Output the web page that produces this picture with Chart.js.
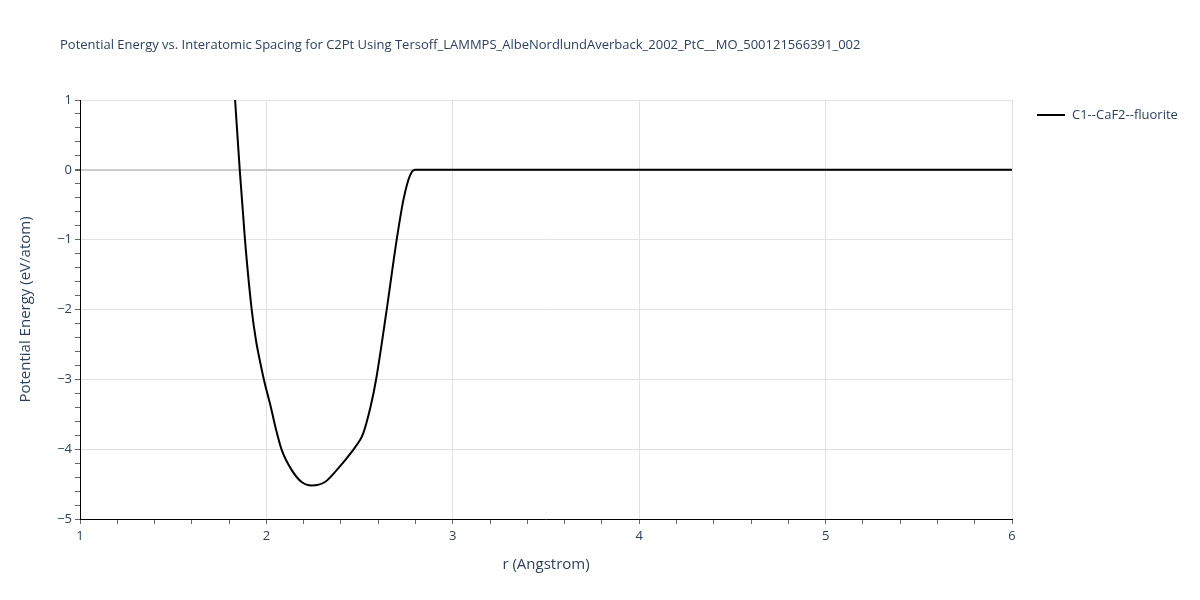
<!DOCTYPE html>
<html>
<head>
<meta charset="utf-8">
<script src="https://cdn.jsdelivr.net/npm/chart.js@4"></script>
<style>
  html, body { margin: 0; padding: 0; background: #fff; }
  #wrap { width: 1200px; height: 600px; position: relative; }
</style>
</head>
<body>
<div id="wrap"><canvas id="myChart" width="1200" height="600"></canvas></div>
<script>
const titleText = "Potential Energy vs. Interatomic Spacing for C2Pt Using Tersoff_LAMMPS_AlbeNordlundAverback_2002_PtC__MO_500121566391_002";
const seriesName = "C1--CaF2--fluorite";
const xTitle = "r (Angstrom)";
const yTitle = "Potential Energy (eV/atom)";

// spacing (Angstrom) and energy (eV/atom)
const rValues = [1.832, 1.857, 1.885, 1.921, 1.944, 1.964, 1.987, 2.023, 2.05, 2.082, 2.136, 2.189,
  2.243, 2.314, 2.377, 2.466, 2.502, 2.52, 2.559, 2.588, 2.645, 2.699, 2.735, 2.761, 2.78,
  2.797, 3.0, 3.5, 4.0, 4.5, 5.0, 5.5, 6.0];
const energyValues = [1.0, 0.0, -1.0, -2.0, -2.44, -2.72, -3.01, -3.39, -3.70, -4.01, -4.30, -4.47,
  -4.52, -4.47, -4.30, -4.01, -3.87, -3.77, -3.39, -3.01, -2.01, -1.0, -0.43, -0.15, -0.03,
  0.0, 0.0, 0.0, 0.0, 0.0, 0.0, 0.0, 0.0];

const xMin = 1, xMax = 6;
const yMin = -5, yMax = 1;

const points = rValues.map((r, i) => ({ x: r, y: energyValues[i] }));
const fontFam = '"Open Sans", "DejaVu Sans", Arial, sans-serif';
const txtColor = "#2a3f5f";

function isMajor(v) {
  return Math.abs(v - Math.round(v)) < 1e-6;
}

const decor = {
  id: "decor",
  afterDraw(chart) {
    const c = chart.ctx;
    c.save();
    c.fillStyle = txtColor;
    c.textBaseline = "middle";
    c.font = "13px " + fontFam;
    c.textAlign = "left";
    c.fillText(titleText, 60, 45);

    // legend
    c.strokeStyle = "#000";
    c.lineWidth = 2;
    c.beginPath();
    c.moveTo(1037, 115);
    c.lineTo(1065, 115);
    c.stroke();
    c.fillText(seriesName, 1072, 115);
    c.restore();
  }
};

const ctx = document.getElementById("myChart");

new Chart(ctx, {
  type: "scatter",
  data: {
    datasets: [
      {
        label: seriesName,
        data: points,
        showLine: true,
        borderColor: "#000000",
        borderWidth: 2,
        pointRadius: 0,
        cubicInterpolationMode: "monotone",
        fill: false,
      },
    ],
  },
  options: {
    responsive: false,
    animation: false,
    layout: { padding: { left: 0, right: 188, top: 100, bottom: 0 } },
    plugins: {
      legend: { display: false },
      title: { display: false },
      tooltip: { enabled: false },
    },
    scales: {
      x: {
        type: "linear",
        min: xMin,
        max: xMax,
        afterFit(scale) { scale.height = 81; },
        border: { color: "#000", width: 1 },
        grid: {
          color: (c) => (c.tick && isMajor(c.tick.value) && c.tick.value !== xMin ? "#e2e2e2" : "rgba(0,0,0,0)"),
          lineWidth: 1,
          tickLength: 5,
          tickColor: "#666",
          drawTicks: true,
        },
        ticks: {
          stepSize: 0.2,
          autoSkip: false,
          maxRotation: 0,
          padding: 4,
          color: txtColor,
          font: { family: fontFam, size: 13 },
          callback: (v) => (isMajor(v) ? String(Math.round(v)) : ""),
        },
        title: {
          display: true,
          text: xTitle,
          color: txtColor,
          font: { family: fontFam, size: 15 },
          padding: { top: 12, bottom: 26 },
        },
      },
      y: {
        type: "linear",
        min: yMin,
        max: yMax,
        afterFit(scale) { scale.width = 80; },
        border: { color: "#000", width: 1 },
        grid: {
          color: (c) => {
            if (!c.tick || !isMajor(c.tick.value)) return "rgba(0,0,0,0)";
            if (Math.round(c.tick.value) === 0) return "#cccccc";
            return "#e2e2e2";
          },
          lineWidth: (c) => (c.tick && isMajor(c.tick.value) && Math.round(c.tick.value) === 0 ? 2 : 1),
          tickLength: 5,
          tickColor: "#666",
          drawTicks: true,
        },
        ticks: {
          stepSize: 0.2,
          autoSkip: false,
          padding: 3,
          color: txtColor,
          font: { family: fontFam, size: 13 },
          callback: (v) => {
            if (!isMajor(v)) return "";
            const n = Math.round(v);
            return n < 0 ? "\u2212" + Math.abs(n) : String(n);
          },
        },
        title: {
          display: true,
          text: yTitle,
          color: txtColor,
          font: { family: fontFam, size: 15 },
          padding: { top: 17, bottom: 8 },
        },
      },
    },
  },
  plugins: [decor],
});
</script>
</body>
</html>
